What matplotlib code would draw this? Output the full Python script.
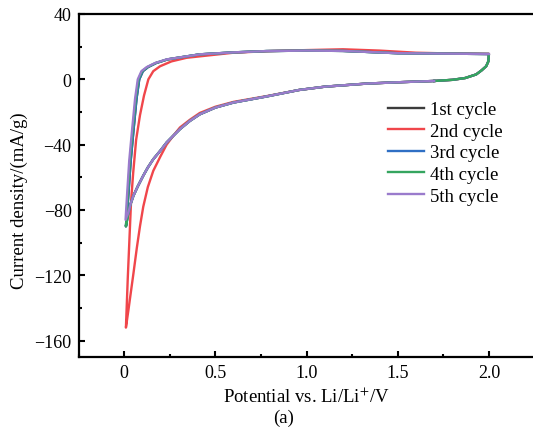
import matplotlib

matplotlib.use("Agg")
import matplotlib.pyplot as plt
from matplotlib.ticker import MultipleLocator

# cathodic sweep (from ~1.7 V down to the 0.01 V cut-off), cycles 1, 3, 4, 5
V_CATH = [1.70, 1.50, 1.33, 1.10, 0.96, 0.78, 0.60, 0.50, 0.415, 0.36, 0.306, 0.27, 0.233, 0.20, 0.16, 0.13,
          0.105, 0.075, 0.051, 0.035, 0.024, 0.01]
I_CATH = [-1.0, -1.8, -2.6, -4.5, -6.5, -10.5, -14.2, -17.3, -21.4, -25.5, -30.5, -34.5, -38.7, -43.5, -48.9,
          -54.0, -59.0, -65.5, -71.3, -76.5, -81.4, -90.0]

# cathodic sweep, cycle 2
V_CATH_2 = [1.70, 1.50, 1.33, 1.10, 0.96, 0.78, 0.60, 0.50, 0.415, 0.36, 0.306, 0.27, 0.233, 0.20, 0.16, 0.13,
            0.105, 0.087, 0.07, 0.051, 0.035, 0.024, 0.01]
I_CATH_2 = [-1.0, -1.8, -2.6, -4.5, -6.5, -10.3, -13.8, -16.8, -20.6, -24.8, -29.5, -34.5, -40.0, -47.0, -56.0,
            -66.0, -78.0, -90.0, -103.0, -119.0, -132.0, -141.0, -152.0]

# anodic sweeps (0.01 V -> 2.0 V)
V_AN_2 = [0.01, 0.02, 0.03, 0.038, 0.05, 0.066, 0.087, 0.109, 0.133, 0.16, 0.197, 0.26, 0.343, 0.6, 0.8, 1.0,
          1.2, 1.4, 1.6, 1.8, 2.0]
I_AN_2 = [-152, -122, -96, -75, -57, -37, -22, -10, 0, 5, 8, 11, 13.2, 16.3, 17.3, 17.9, 18.4, 17.6, 16.3, 15.8,
          15.6]

V_AN_3 = [0.01, 0.022, 0.036, 0.05, 0.068, 0.083, 0.103, 0.131, 0.176, 0.238, 0.415, 0.6, 0.78, 1.0, 1.2, 1.5,
          1.8, 2.0]
I_AN_3 = [-90, -73, -50, -33, -12, 0, 5, 7.5, 10, 12.2, 15.3, 16.5, 17.3, 17.6, 17.4, 16.0, 15.7, 15.5]

V_AN_4 = [0.01, 0.019, 0.032, 0.046, 0.064, 0.079, 0.099, 0.128, 0.173, 0.236, 0.415, 0.6, 0.78, 1.0, 1.2, 1.5,
          1.8, 2.0]
I_AN_4 = [-90, -73, -50, -33, -12, 0, 5, 7.5, 10, 12.2, 15.3, 16.5, 17.3, 17.6, 17.4, 16.0, 15.7, 15.5]

V_AN_5 = [0.008, 0.015, 0.028, 0.042, 0.06, 0.075, 0.095, 0.124, 0.17, 0.233, 0.415, 0.6, 0.78, 1.0, 1.2, 1.5,
          1.8, 2.0]
I_AN_5 = [-86, -73, -50, -33, -12, 0, 5, 7.5, 10, 12.2, 15.3, 16.5, 17.3, 17.6, 17.4, 16.0, 15.7, 15.5]

# turn-around at 2.0 V back down to ~1.7 V
V_TAIL = [2.0, 1.997, 1.985, 1.96, 1.93, 1.87, 1.8, 1.7]
I_TAIL = [15.5, 11.0, 8.0, 5.5, 3.0, 0.8, -0.3, -1.0]

LABELS = ["1st cycle", "2nd cycle", "3rd cycle", "4th cycle", "5th cycle"]
COLORS = ["#3c3c3c", "#f0464b", "#2f6fc4", "#35a55f", "#9a7bcc"]

cycles = [
    (V_CATH + V_AN_3 + V_TAIL, I_CATH + I_AN_3 + I_TAIL),
    (V_CATH_2 + V_AN_2 + V_TAIL, I_CATH_2 + I_AN_2 + I_TAIL),
    (V_CATH + V_AN_3 + V_TAIL, I_CATH + I_AN_3 + I_TAIL),
    (V_CATH + V_AN_4 + V_TAIL, I_CATH + I_AN_4 + I_TAIL),
    (V_CATH[:-1] + [0.008] + V_AN_5, I_CATH[:-1] + [-86.0] + I_AN_5),
]

plt.rcParams["font.family"] = ["Liberation Serif", "DejaVu Serif"]
plt.rcParams["mathtext.fontset"] = "stix"

W, H = 533, 435
fig = plt.figure(figsize=(W / 100, H / 100), dpi=100)
ax = fig.add_axes([78.5 / W, 1 - 358 / H, 456 / W, 343 / H])

for (v, i), lab, col in zip(cycles, LABELS, COLORS):
    ax.plot(v, i, color=col, lw=1.7, label=lab, solid_joinstyle="round")

ax.set_xlim(-0.25, 2.25)
ax.set_ylim(-170, 40)
ax.xaxis.set_major_locator(MultipleLocator(0.5))
ax.xaxis.set_minor_locator(MultipleLocator(0.25))
ax.yaxis.set_major_locator(MultipleLocator(40))
ax.yaxis.set_minor_locator(MultipleLocator(20))
ax.xaxis.set_major_formatter(lambda x, pos: f"{x:.1f}" if abs(x) > 1e-9 else "0")
ax.yaxis.set_major_formatter(lambda y, pos: f"{y:.0f}".replace("-", "\u2212"))
ax.tick_params(which="both", direction="in", labelsize=13, width=1.5)
ax.tick_params(which="major", length=4, pad=5)
ax.tick_params(which="minor", length=2.5)
for s in ax.spines.values():
    s.set_linewidth(1.6)

ax.set_xlabel("Potential vs. Li/Li$^{+}$/V", fontsize=13.5)
ax.set_ylabel("Current density/(mA/g)", fontsize=13.5)
ax.xaxis.set_label_coords(0.5, -0.085)
ax.yaxis.set_label_coords(-0.11, 0.46)
fig.text(284 / W, 1 - 418 / H, "(a)", ha="center", va="center", fontsize=13.5)

ax.legend(
    loc="upper left",
    bbox_to_anchor=(388 / W, 1 - 102 / H),
    bbox_transform=fig.transFigure,
    frameon=False,
    fontsize=13.5,
    borderpad=0,
    borderaxespad=0,
    handlelength=1.9,
    handletextpad=0.35,
    labelspacing=0.24,
)

fig.savefig("out.png", dpi=100)
